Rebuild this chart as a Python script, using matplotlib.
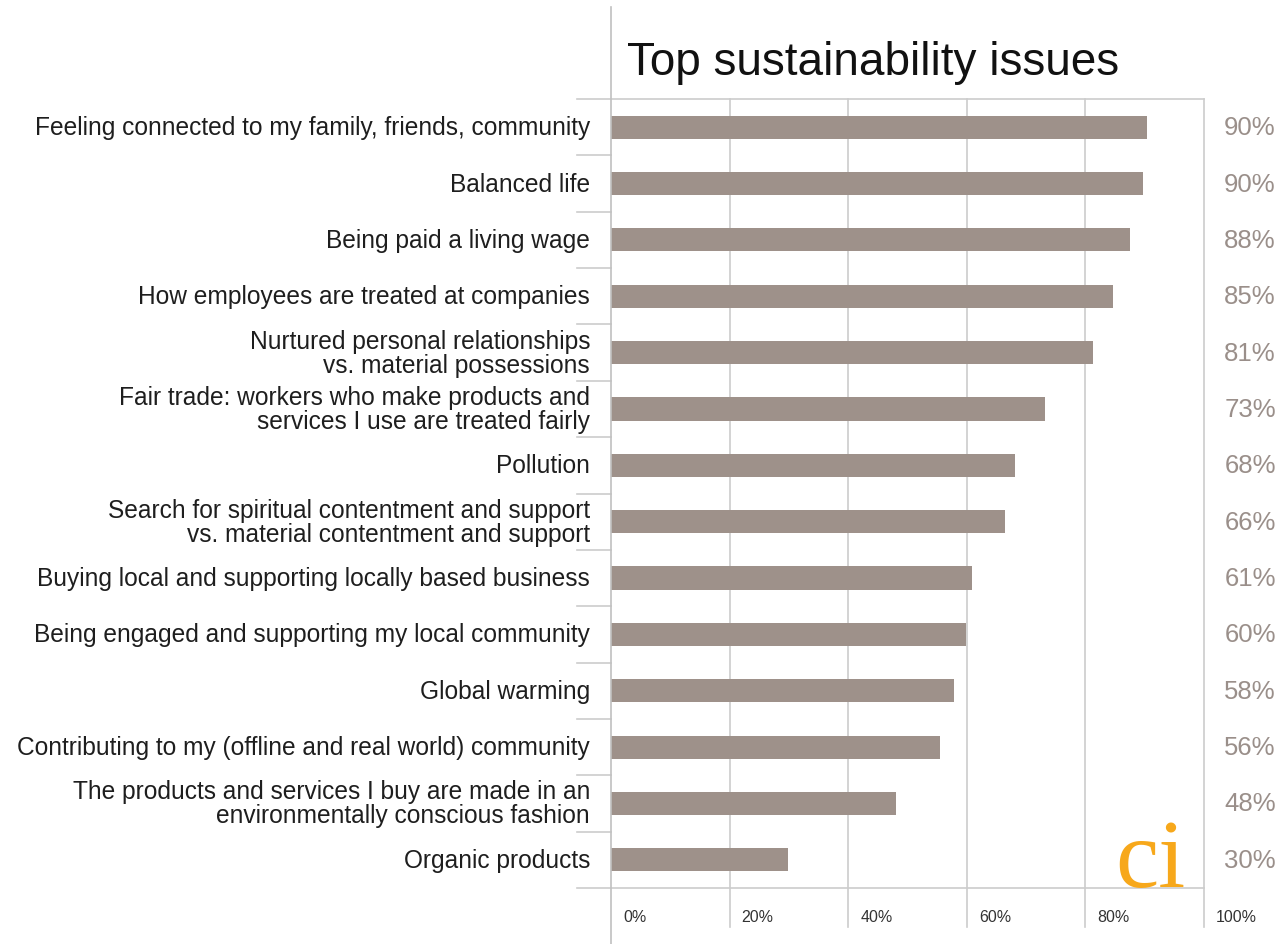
import matplotlib
matplotlib.use("Agg")
import matplotlib.pyplot as plt
import numpy as np

plt.rcParams['font.family'] = ['Liberation Sans', 'DejaVu Sans']

# data
issues = [
    "Feeling connected to my family, friends, community",
    "Balanced life",
    "Being paid a living wage",
    "How employees are treated at companies",
    "Nurtured personal relationships\nvs. material possessions",
    "Fair trade: workers who make products and\nservices I use are treated fairly",
    "Pollution",
    "Search for spiritual contentment and support\nvs. material contentment and support",
    "Buying local and supporting locally based business",
    "Being engaged and supporting my local community",
    "Global warming",
    "Contributing to my (offline and real world) community",
    "The products and services I buy are made in an\nenvironmentally conscious fashion",
    "Organic products",
]
pct = [90.4, 89.7, 87.5, 84.7, 81.3, 73.2, 68.1, 66.4, 60.9, 59.9, 57.8, 55.5, 48.1, 29.8]
x_ticks = [0, 20, 40, 60, 80, 100]
x_ticklabels = ["0%", "20%", "40%", "60%", "80%", "100%"]

bar_col = "#9e918a"
grid_col = "#cccccc"
lbl_col = "#9a8f8a"

fig = plt.figure(figsize=(12.84, 9.45), dpi=100)
ax = fig.add_axes([611/1284, 1-889/945, (1204-611)/1284, (889-100)/945])

y = np.arange(len(issues))
ax.barh(y, pct, height=0.41, color=bar_col, zorder=2)
ax.set_xlim(0, 100)
ax.set_ylim(len(issues)-0.5, -0.5)

for s in ax.spines.values():
    s.set_visible(False)
ax.set_xticks([])
ax.set_yticks([])

# gridlines, run down through tick label area
for t in x_ticks[1:]:
    ax.plot([t, t], [-0.5, 14.2], color=grid_col, lw=1.2, zorder=1, clip_on=False)
# left long line
ax.plot([0, 0], [-2.13, 14.5], color="#c0c0c0", lw=1.2, zorder=3, clip_on=False)

# row separators (short on the left), top & bottom long
for b in np.arange(len(issues)+1) - 0.5:
    x0 = -34/5.93
    x1 = 100 if b in (-0.5, len(issues)-0.5) else 0
    ax.plot([x0, x1], [b, b], color=grid_col, lw=1.2, zorder=1, clip_on=False)

# category labels
for yi, name in zip(y, issues):
    ax.text(-21/5.93, yi, name, ha="right", va="center", fontsize=17.65,
            color="#1e1e1e", linespacing=1.0)

# value labels
for yi, v in zip(y, pct):
    ax.text(1.0 + 46/593, yi, f"{round(v)}%", transform=ax.get_yaxis_transform(),
            ha="center", va="center", fontsize=18.5, color=lbl_col)

# tick labels below
for t, lab in zip(x_ticks, x_ticklabels):
    ax.text(t + 12/5.93, 14.0, lab, ha="left", va="center", fontsize=11.5, color="#333333")

fig.text(627/1284, 1-63/945, "Top sustainability issues", fontsize=33,
         ha="left", va="center", color="#111111")

# ci logo
ax.text(1115/1284, 1-887/945, "ci", transform=fig.transFigure, fontsize=70,
        family="Liberation Serif", color="#f7a81b", ha="left", va="baseline", zorder=4)

fig.savefig("out.png", dpi=100, facecolor="white")
